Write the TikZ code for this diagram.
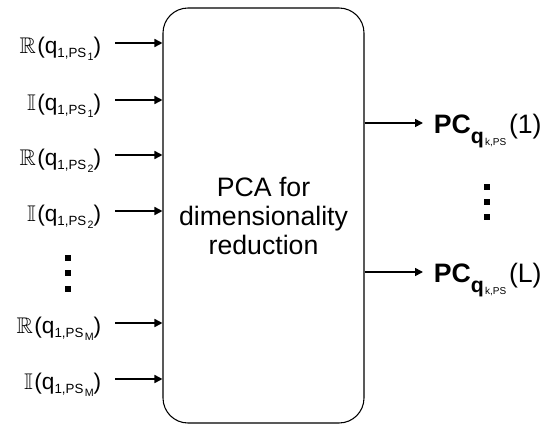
\documentclass[tikz,border=0pt]{standalone}
\usepackage{amsmath}
\usepackage{amssymb}
\usepackage{fontspec}
\setmainfont{Liberation Sans}
\usepackage{tikz}
\usetikzlibrary{arrows.meta,positioning}

% input and output label texts
\newcommand{\inq}[2]{#1\kern1pt(q\raisebox{-3pt}{\fontsize{10}{10}\selectfont 1,PS\kern1pt\raisebox{-2.25pt}{\fontsize{8}{8}\selectfont #2}})}
\newcommand{\pcq}[1]{\textbf{PC}\raisebox{-7.5pt}{\fontsize{16}{16}\selectfont\textbf{q}\kern1pt\raisebox{-2pt}{\fontsize{7.5}{7.5}\selectfont k,PS}}\kern2pt(#1)}

\begin{document}
\begin{tikzpicture}[x=0.75pt,y=-0.75pt,>={Triangle[length=6pt,width=6pt]},line width=1.2pt]
    \tikzstyle{inlbl}=[anchor=east,inner xsep=9.75pt,inner ysep=0pt,text height=19pt,text depth=4pt,font=\fontsize{17}{19}\selectfont]
    \tikzstyle{outlbl}=[anchor=west,inner xsep=7.5pt,inner ysep=0pt,text height=20pt,text depth=5pt,font=\fontsize{20}{22}\selectfont]
    \tikzstyle{pca}=[draw,line width=0.8pt,rounded corners=18.75pt,minimum width=150.75pt,minimum height=311.25pt,align=center,font=\fontsize{20}{21.75}\selectfont]
    \useasboundingbox (0,0) rectangle (542,425);

    \node[pca] (box) at (263.5,215.5) {PCA for\\dimensionality\\reduction};

    \node[inlbl] (re1) at (115,43)  {\inq{$\mathbb{R}$}{1}};
    \node[inlbl] (im1) at (115,100) {\inq{$\mathbb{I}$}{1}};
    \node[inlbl] (re2) at (115,155) {\inq{$\mathbb{R}$}{2}};
    \node[inlbl] (im2) at (115,211) {\inq{$\mathbb{I}$}{2}};
    \node[inlbl] (reM) at (115,323) {\inq{$\mathbb{R}$}{M}};
    \node[inlbl] (imM) at (115,379) {\inq{$\mathbb{I}$}{M}};

    \node[outlbl] (pc1) at (423,123) {\pcq{1}};
    \node[outlbl] (pcL) at (423,272) {\pcq{L}};

    \path [->]
    (re1) edge (re1 -| box.west)
    (im1) edge (im1 -| box.west)
    (re2) edge (re2 -| box.west)
    (im2) edge (im2 -| box.west)
    (reM) edge (reM -| box.west)
    (imM) edge (imM -| box.west)
    (pc1 -| box.east) edge (pc1)
    (pcL -| box.east) edge (pcL);

    % vertical dots
    \foreach \y in {258,273,289} \fill (65.25,\y-2.75) rectangle ++(5.5,5.5);
    \foreach \y in {187,202,217} \fill (484.25,\y-2.75) rectangle ++(5.5,5.5);
\end{tikzpicture}
\end{document}
